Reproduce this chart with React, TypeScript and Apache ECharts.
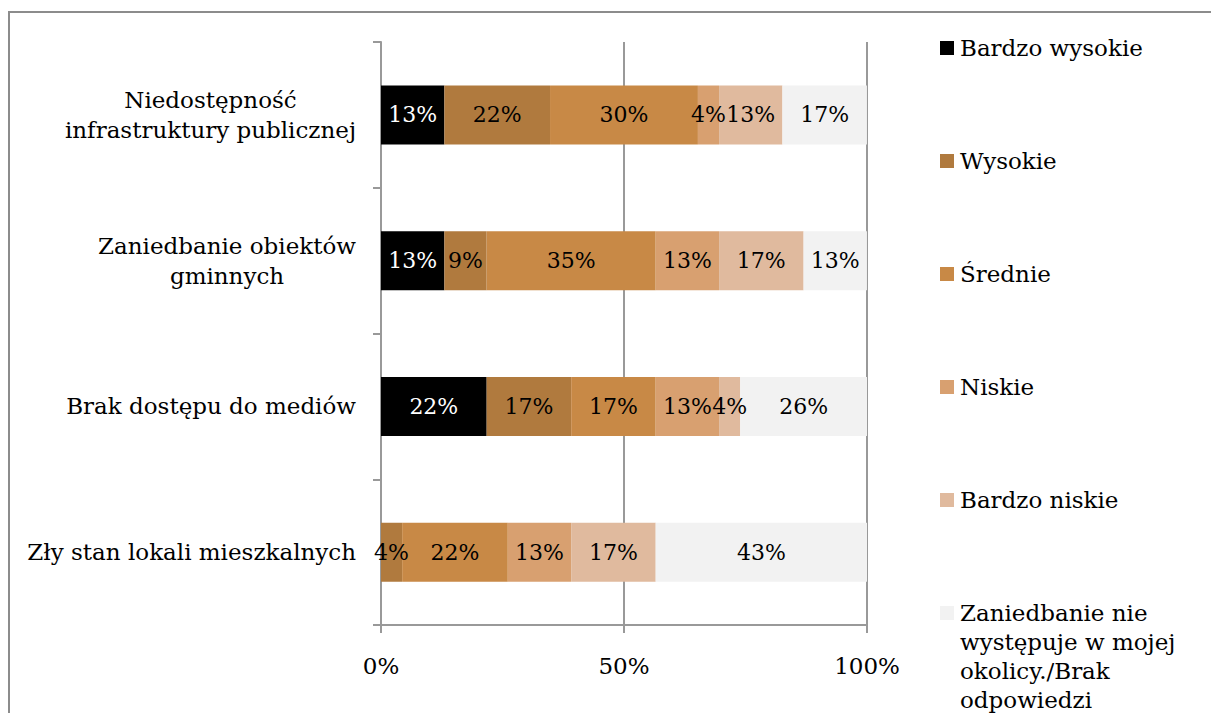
import React, { useEffect, useRef } from "react";
import * as echarts from "echarts";

const categories = [
  "Niedostępność\ninfrastruktury publicznej",
  "Zaniedbanie obiektów\ngminnych",
  "Brak dostępu do mediów",
  "Zły stan lokali mieszkalnych",
];

const seriesNames = [
  "Bardzo wysokie",
  "Wysokie",
  "Średnie",
  "Niskie",
  "Bardzo niskie",
  "Zaniedbanie nie\nwystępuje w mojej\nokolicy./Brak\nodpowiedzi",
];

const bardzoWysokie = [13.04, 13.04, 21.74, 0];
const wysokie = [21.74, 8.7, 17.39, 4.35];
const srednie = [30.43, 34.78, 17.39, 21.74];
const niskie = [4.35, 13.04, 13.04, 13.04];
const bardzoNiskie = [13.04, 17.39, 4.35, 17.39];
const brakOdpowiedzi = [17.39, 13.04, 26.09, 43.48];

const seriesValues = [bardzoWysokie, wysokie, srednie, niskie, bardzoNiskie, brakOdpowiedzi];
const colors = ["#000000", "#b07a3e", "#c88946", "#d8a070", "#e0ba9e", "#f2f2f2"];
const labelColors = ["#ffffff", "#000000", "#000000", "#000000", "#000000", "#000000"];

const xTicks = [0, 50, 100];

const FONT = "DejaVu Serif";
const FS = 23;
const LFS = 22;

export default function App() {
  const ref = useRef<HTMLDivElement>(null);

  useEffect(() => {
    if (!ref.current) return;
    const chart = echarts.init(ref.current, null, { renderer: "svg" });

    const legendY = [48, 161, 274, 387, 500, 613];
    const legendGraphics: any[] = [];
    seriesNames.forEach((name, i) => {
      legendGraphics.push({
        type: "rect",
        shape: { x: 940, y: legendY[i] - 7, width: 14, height: 14 },
        style: { fill: colors[i] },
        silent: true,
      });
      legendGraphics.push({
        type: "text",
        x: 960,
        y: legendY[i] - 15,
        style: {
          text: name,
          fill: "#000",
          font: `${FS}px "${FONT}"`,
          lineHeight: 29,
          verticalAlign: "top",
        },
        silent: true,
      });
    });

    const option: any = {
      animation: false,
      backgroundColor: "#ffffff",
      textStyle: { fontFamily: FONT },
      grid: { left: 381, right: 344, top: 42, bottom: 88, containLabel: false },
      xAxis: {
        type: "value",
        min: xTicks[0],
        max: xTicks[xTicks.length - 1],
        interval: 50,
        axisLine: { show: true, lineStyle: { color: "#999", width: 2 } },
        axisTick: { show: true, length: 8, lineStyle: { color: "#999", width: 2 } },
        splitLine: { show: true, lineStyle: { color: "#999", width: 2 } },
        axisLabel: {
          formatter: "{value}%",
          color: "#000",
          fontFamily: FONT,
          fontSize: FS,
          margin: 29,
        },
      },
      yAxis: {
        type: "category",
        data: categories,
        inverse: true,
        axisLine: { show: true, lineStyle: { color: "#999", width: 2 } },
        axisTick: { show: true, length: 8, lineStyle: { color: "#999", width: 2 } },
        splitLine: { show: false },
        axisLabel: {
          margin: 25,
          color: "#000",
          formatter: (v: string) =>
            v
              .split("\n")
              .map((l) => `{c|${l}}`)
              .join("\n"),
          rich: {
            c: {
              align: "center",
              fontFamily: FONT,
              fontSize: FS,
              lineHeight: 30,
              color: "#000",
            },
          },
        },
      },
      graphic: [
        {
          type: "rect",
          shape: { x: 9, y: 12, width: 1400, height: 900 },
          style: { fill: "none", stroke: "#8c8c8c", lineWidth: 2 },
          silent: true,
          z: -10,
        },
        ...legendGraphics,
      ],
      series: seriesNames.map((name, i) => ({
        name,
        type: "bar",
        stack: "total",
        barWidth: 59,
        data: seriesValues[i],
        itemStyle: { color: colors[i] },
        label: {
          show: true,
          position: "inside",
          color: labelColors[i],
          fontFamily: FONT,
          fontSize: LFS,
          formatter: (p: any) => (p.value > 0 ? `${Math.round(p.value)}%` : ""),
        },
      })),
    };

    chart.setOption(option);
    return () => chart.dispose();
  }, []);

  return (
    <div
      ref={ref}
      style={{ position: "fixed", left: 0, top: 0, width: 1211, height: 713, background: "#fff" }}
    />
  );
}
